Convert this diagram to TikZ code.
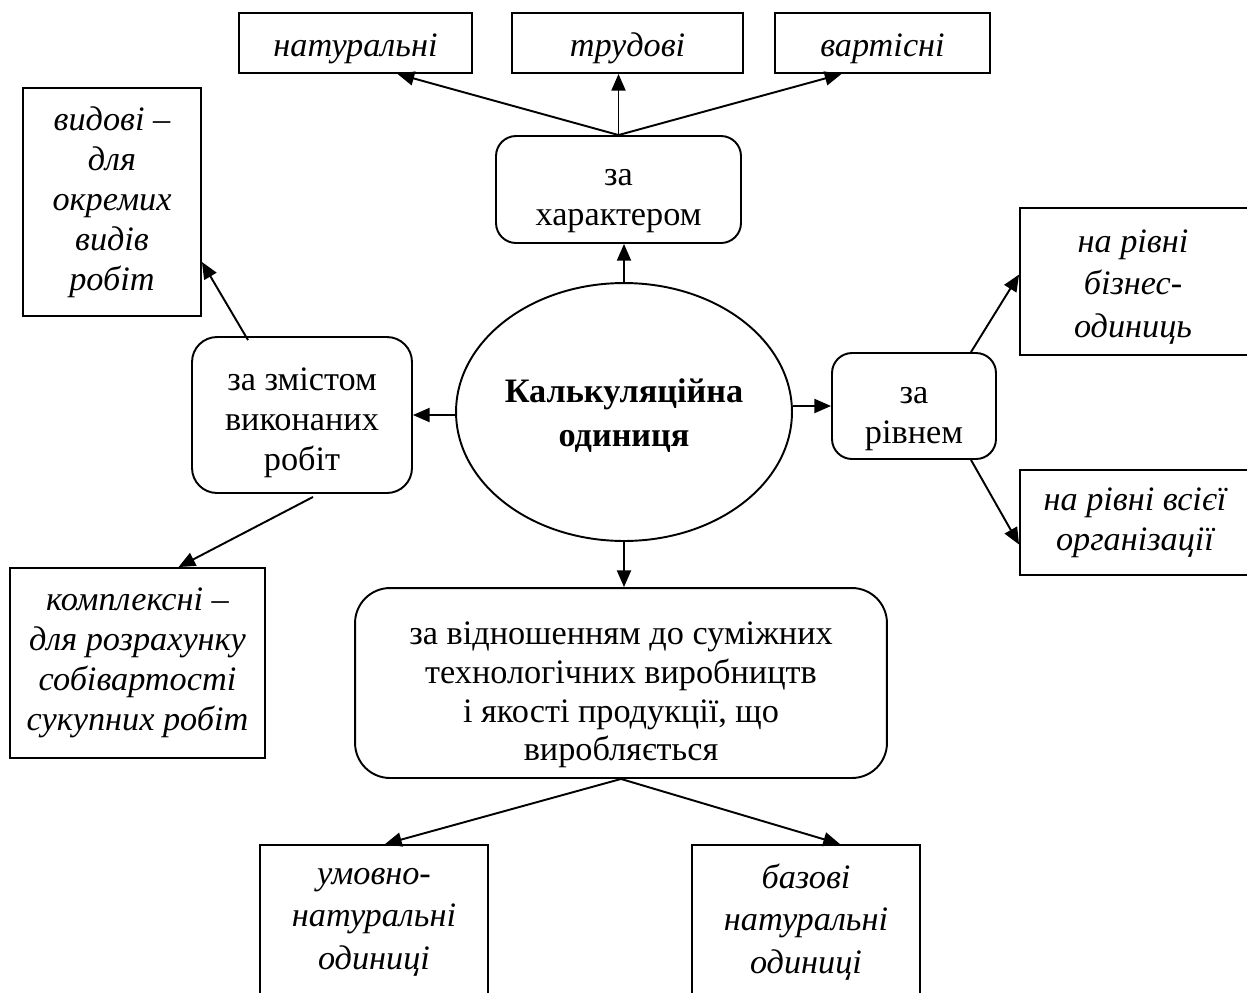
\documentclass[tikz,border=0pt]{standalone}
\usepackage{fontspec}
\setmainfont{Liberation Serif}
\usetikzlibrary{calc,arrows.meta,shapes.geometric}

\begin{document}
\begin{tikzpicture}[x=0.02cm,y=-0.02cm,
  every node/.style={font=\fontsize{19.5}{22.7}\selectfont, align=center, inner sep=0pt},
  sqbox/.style={draw, line width=1.1pt, rectangle},
  rbox/.style={draw, line width=1.1pt, rectangle, rounded corners=0.4cm},
  leaf/.style={font=\fontsize{19.5}{22.7}\selectfont\itshape},
  tallleaf/.style={font=\fontsize{19.5}{24.3}\selectfont\itshape},
  arr/.style={-{Triangle[length=9.5pt,width=8pt]}, line width=1.1pt}]

\useasboundingbox (0,0) rectangle (1247,992);

% centre of the scheme
\node[draw, ellipse, line width=1.1pt, minimum width=6.72cm, minimum height=5.16cm] (ell) at (624,412) {};
\node[font=\fontsize{19.5}{25}\selectfont\bfseries] (ellt) at (624,416) {Калькуляційна\\одиниця};

% grouping criteria
\node[rbox, minimum width=4.9cm, minimum height=2.14cm] (zh) at (618.5,189.5) {};
\node (zht) at (618.5,201) {за\\характером};
\node[rbox, minimum width=4.4cm, minimum height=3.12cm, rounded corners=0.5cm] (zm) at (302,415) {};
\node (zmt) at (302,423) {за змістом\\виконаних\\робіт};
\node[rbox, minimum width=3.28cm, minimum height=2.12cm] (zr) at (914,406) {};
\node (zrt) at (914,419) {за\\рівнем};
\node[rbox, minimum width=10.64cm, minimum height=3.8cm, rounded corners=0.7cm] (big) at (621,683) {};
\node[font=\fontsize{19.5}{22}\selectfont] (bigt) at (621,695)
  {за відношенням до суміжних\\технологічних виробництв\\і якості продукції, що\\виробляється};

% kinds of units
\node[sqbox, leaf, minimum width=4.66cm, minimum height=1.2cm] (nat) at (355.5,43) {\rule{0pt}{19pt}натуральні};
\node[sqbox, leaf, minimum width=4.62cm, minimum height=1.2cm] (tru) at (627.5,43) {\rule{0pt}{19pt}трудові};
\node[sqbox, leaf, minimum width=4.30cm, minimum height=1.2cm] (var) at (882.5,43) {\rule{0pt}{19pt}вартісні};
\node[sqbox, leaf, minimum width=3.56cm, minimum height=4.56cm] (vid) at (112,202) {видові –\\для\\окремих\\видів\\робіт};
\node[sqbox, leaf, minimum width=5.1cm, minimum height=3.8cm] (kom) at (137.5,663) {комплексні –\\для розрахунку\\собівартості\\сукупних робіт};
\node[sqbox, minimum width=4.6cm, minimum height=2.94cm] (biz) at (1135,281.5) {};
\node[tallleaf] (bizt) at (1133,287) {на рівні\\бізнес-\\одиниць};
\node[sqbox, leaf, minimum width=4.6cm, minimum height=2.1cm] (org) at (1135,522.5) {на рівні всієї\\організації};
\node[sqbox, minimum width=4.56cm, minimum height=3.3cm] (umov) at (374,927.5) {};
\node[tallleaf] (umovt) at (374,922) {умовно-\\натуральні\\одиниці};
\node[sqbox, minimum width=4.56cm, minimum height=3.3cm] (baz) at (806,927.5) {};
\node[tallleaf] (bazt) at (806,922) {базові\\натуральні\\одиниці};

% connectors
\draw[arr] (ell.north) -- (ell.north |- zh.south);
\draw[arr] (zh.north) -- ($(nat.south)+(42,0)$);
\draw[arr] (zh.north) -- (zh.north |- tru.south);
\draw[arr] (zh.north) -- ($(var.south)+(-41,0)$);

\draw[arr] (ell.west |- zm.east) -- (zm.east);
\draw[arr] ($(zm.north)+(-54,4)$) -- ($(vid.east)+(0,60)$);
\draw[arr] ($(zm.south)+(11,3)$) -- ($(kom.north)+(41,0)$);

\draw[arr] (ell.east |- zr.west) -- (zr.west);
\draw[arr] ($(zr.north)+(57,0)$) -- ($(biz.west)+(0,-7)$);
\draw[arr] ($(zr.south)+(57,0)$) -- ($(org.west)+(0,22)$);

\draw[arr] (ell.south) -- (ell.south |- big.north);
\draw[arr] (big.south) -- ($(umov.north)+(11,0)$);
\draw[arr] (big.south) -- ($(baz.north)+(34,0)$);
\end{tikzpicture}
\end{document}
